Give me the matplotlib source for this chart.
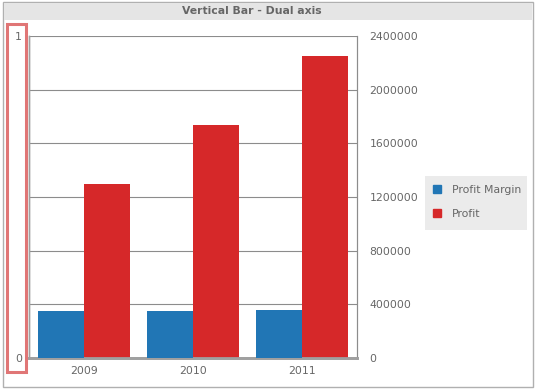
import matplotlib.pyplot as plt
import matplotlib.patches as mpatches
import matplotlib.ticker as mticker
import numpy as np

years = ["2009", "2010", "2011"]
profit_margin = [0.147, 0.147, 0.150]
profit = [1300000, 1735000, 2250000]

blue = "#2176b5"
red = "#d62829"
text_gray = "#666666"

W, H = 537, 391
fig = plt.figure(figsize=(W / 100, H / 100), dpi=100)
plt.rcParams["font.family"] = ["DejaVu Sans"]
fs = 7.8


def px(x0, y0, x1, y1):
    # pixel box (top-left origin) -> figure fraction rect
    return [x0 / W, 1 - y1 / H, (x1 - x0) / W, (y1 - y0) / H]


def add_box(x0, y0, x1, y1, **kw):
    r = px(x0, y0, x1, y1)
    fig.patches.append(mpatches.Rectangle((r[0], r[1]), r[2], r[3],
                                          transform=fig.transFigure, **kw))


# outer frame, title bar, legend background
add_box(3, 2, 533, 387, fill=False, edgecolor="#b0b0b0", linewidth=1)
add_box(4, 3, 532, 20, facecolor="#e5e5e5", edgecolor="none")
add_box(425, 176, 527, 230, facecolor="#ebebeb", edgecolor="none")
fig.text(252 / W, 1 - 11.5 / H, "Vertical Bar - Dual axis", ha="center", va="center",
         fontsize=fs, fontweight="bold", color=text_gray)

ax = fig.add_axes(px(29, 36, 357, 358))
ax2 = ax.twinx()

x = np.arange(len(years))
w = 0.42
ax.bar(x - w / 2, profit_margin, w, color=blue, zorder=3)
ax2.bar(x + w / 2, profit, w, color=red, zorder=3)

ax.set_xlim(-0.5, len(years) - 0.5)
ax.set_ylim(0, 1)
ax.set_yticks([0, 1])
ax2.set_ylim(0, 2400000)
ax2.set_yticks(np.arange(0, 2400001, 400000))
ax2.yaxis.set_major_formatter(mticker.FuncFormatter(lambda v, p: f"{int(v)}"))
ax2.grid(axis="y", color="#8c8c8c", linewidth=0.8, zorder=0)
ax2.set_axisbelow(True)
ax.set_zorder(ax2.get_zorder() + 1)
ax.patch.set_visible(False)

ax.set_xticks(x)
ax.set_xticklabels(years)
ax.tick_params(axis="x", length=0, pad=6, labelsize=fs, labelcolor=text_gray)
ax.tick_params(axis="y", length=0, pad=5, labelsize=fs, labelcolor=text_gray)
ax2.tick_params(axis="y", length=0, pad=9, labelsize=fs, labelcolor=text_gray)

for a in (ax, ax2):
    a.spines["top"].set_visible(False)
    a.spines["left"].set_color("#a0a0a0")
    a.spines["right"].set_color("#8c8c8c")
    a.spines["bottom"].set_color("#a0a0a0")
    a.spines["bottom"].set_linewidth(2)
    a.spines["left"].set_linewidth(1)
    a.spines["right"].set_linewidth(0.8)

# highlight box around left axis
add_box(7, 24, 26, 372, fill=False, edgecolor="#e07676", linewidth=2.2)

handles = [mpatches.Patch(color=blue, label="Profit Margin"),
           mpatches.Patch(color=red, label="Profit")]
leg = fig.legend(handles=handles, loc="center left",
                 bbox_to_anchor=(433 / W, 1 - 202 / H), frameon=False,
                 fontsize=fs, handlelength=0.75, handleheight=0.75,
                 handletextpad=1.0, labelspacing=1.25, borderpad=0,
                 borderaxespad=0)
for t in leg.get_texts():
    t.set_color(text_gray)

fig.savefig("out.png", dpi=100)
